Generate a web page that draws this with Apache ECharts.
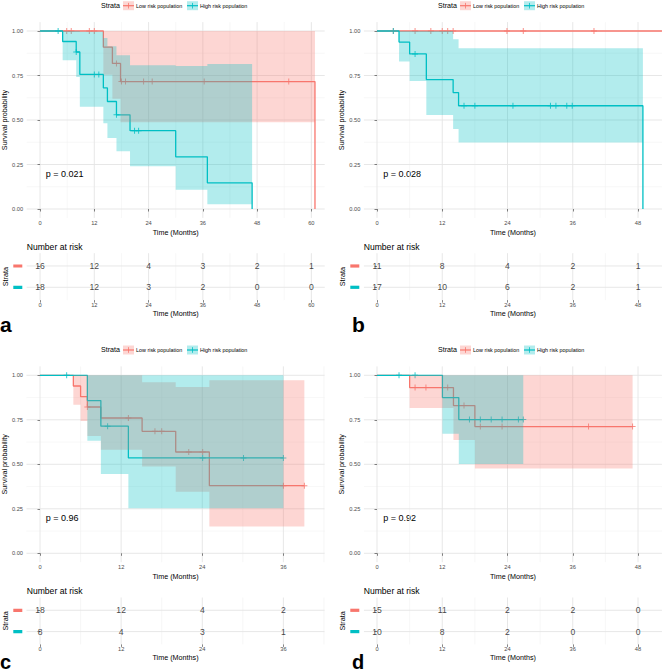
<!DOCTYPE html>
<html><head><meta charset="utf-8">
<script src="https://cdn.jsdelivr.net/npm/echarts@6/dist/echarts.min.js"></script>
<style>html,body{margin:0;padding:0;background:#fff}#c{width:662px;height:672px}</style>
</head><body><div id="c"></div>
<script>
// ---------------- DATA ----------------
const strataNames = ['Low risk population', 'High risk population'];
const yTicks = [0, 0.25, 0.5, 0.75, 1];
const yMinor = [0.125, 0.375, 0.625, 0.875];

// Panel a
const aLowTimes = [0, 14.0, 16.0, 17.8, 60.8];
const aLowSurv = [1, 0.909, 0.818, 0.716, 0];
const aLowLower = [1, 0.754, 0.619, 0.488, 0];
const aLowUpper = [1, 1, 1, 1, 0];
const aLowEnd = 60.8;
const aLowCensor = [5.9, 6.9, 10.9, 12.0, 16.9, 18.0, 18.9, 22.9, 24.8, 36.3, 55.0];
const aHighTimes = [0, 5.0, 8.0, 8.8, 14.0, 14.9, 16.9, 19.9, 30.0, 37.0, 46.9];
const aHighSurv = [1, 0.941, 0.882, 0.756, 0.680, 0.604, 0.529, 0.440, 0.293, 0.147, 0];
const aHighLower = [1, 0.836, 0.741, 0.574, 0.482, 0.399, 0.324, 0.240, 0.108, 0.027, 0];
const aHighUpper = [1, 1, 1, 0.996, 0.960, 0.914, 0.864, 0.807, 0.803, 0.815, 0];
const aHighEnd = 46.9;
const aHighCensor = [4.0, 8.0, 12.0, 13.0, 16.9, 20.9, 21.8];
const aTicks = [0, 12, 24, 36, 48, 60];
const aMinor = [6, 18, 30, 42, 54];
const aRiskLow = [16, 12, 4, 3, 2, 1];
const aRiskHigh = [18, 12, 3, 2, 0, 0];
const aPValue = 'p = 0.021';

// Panel b
const bLowTimes = [0];
const bLowSurv = [1];
const bLowLower = [1];
const bLowUpper = [1];
const bLowEnd = 52.4;
const bLowCensor = [3.0, 7.0, 9.9, 12.0, 13.0, 14.0, 23.9, 26.9, 39.9];
const bHighTimes = [0, 4.05, 6.0, 9.07, 14.0, 15.0, 48.9];
const bHighSurv = [1, 0.938, 0.871, 0.727, 0.654, 0.580, 0];
const bHighLower = [1, 0.828, 0.719, 0.528, 0.449, 0.373, 0];
const bHighUpper = [1, 1, 1, 1, 0.953, 0.903, 0];
const bHighEnd = 48.9;
const bHighCensor = [3.0, 7.0, 16.0, 18.0, 25.0, 31.9, 32.9, 34.9, 35.9];
const bTicks = [0, 12, 24, 36, 48];
const bMinor = [6, 18, 30, 42];
const bRiskLow = [11, 8, 4, 2, 1];
const bRiskHigh = [17, 10, 6, 2, 1];
const bPValue = 'p = 0.028';

// Panel c
const cLowTimes = [0, 4.93, 6.0, 7.0, 9.0, 15.1, 20.07, 25.05];
const cLowSurv = [1, 0.940, 0.880, 0.822, 0.760, 0.685, 0.569, 0.380];
const cLowLower = [1, 0.835, 0.743, 0.659, 0.582, 0.487, 0.346, 0.150];
const cLowUpper = [1, 1, 1, 1, 1, 0.961, 0.934, 0.972];
const cLowEnd = 39.1;
const cLowCensor = [7.0, 13.07, 17.0, 18.0, 22.0, 24.06, 36.0, 39.1];
const cHighTimes = [0, 7.0, 9.0, 13.07];
const cHighSurv = [1, 0.858, 0.714, 0.536];
const cHighLower = [1, 0.633, 0.446, 0.253];
const cHighUpper = [1, 1, 1, 1];
const cHighEnd = 36.0;
const cHighCensor = [3.94, 10.0, 24.06, 30.1, 36.0];
const cTicks = [0, 12, 24, 36];
const cMinor = [6, 18, 30, 42];
const cRiskLow = [18, 12, 4, 2];
const cRiskHigh = [8, 4, 3, 1];
const cPValue = 'p = 0.96';

// Panel d
const dLowTimes = [0, 6.0, 14.06, 18.0];
const dLowSurv = [1, 0.931, 0.830, 0.712];
const dLowLower = [1, 0.816, 0.637, 0.476];
const dLowUpper = [1, 1, 1, 1];
const dLowEnd = 47.0;
const dLowCensor = [7.0, 9.0, 13.0, 16.0, 19.0, 23.0, 38.9, 47.0];
const dHighTimes = [0, 12.03, 15.04];
const dHighSurv = [1, 0.875, 0.751];
const dHighLower = [1, 0.672, 0.502];
const dHighUpper = [1, 1, 1];
const dHighEnd = 26.9;
const dHighCensor = [4.05, 7.0, 17.0, 19.0, 21.0, 23.0, 26.0, 26.9];
const dTicks = [0, 12, 24, 36, 48];
const dMinor = [6, 18, 30, 42];
const dRiskLow = [15, 11, 2, 2, 0];
const dRiskHigh = [10, 8, 2, 0, 0];
const dPValue = 'p = 0.92';

// ---------------- STYLE / LAYOUT ----------------
const RED = '#F8766D', TEAL = '#00BFC4';
const RED_FILL = 'rgba(248,118,109,0.3)', TEAL_FILL = 'rgba(0,191,196,0.3)';
const FONT = '"Liberation Sans", Arial, Helvetica, sans-serif';
const MAJOR = '#E4E4E4', MINOR = '#F1F1F1';

function curve(times, surv, lower, upper, end, censor) {
  return {times, surv, lower, upper, end, censor};
}
const panels = [
  {letter: 'a', ox: 0, oy: 0, left: 26.7, xMin: -2.95, xMax: 62.95, ticks: aTicks, minor: aMinor,
   low: curve(aLowTimes, aLowSurv, aLowLower, aLowUpper, aLowEnd, aLowCensor),
   high: curve(aHighTimes, aHighSurv, aHighLower, aHighUpper, aHighEnd, aHighCensor),
   riskLow: aRiskLow, riskHigh: aRiskHigh, p: aPValue},
  {letter: 'b', ox: 337, oy: 0, left: 363.95, xMin: -2.4, xMax: 52.4, ticks: bTicks, minor: bMinor,
   low: curve(bLowTimes, bLowSurv, bLowLower, bLowUpper, bLowEnd, bLowCensor),
   high: curve(bHighTimes, bHighSurv, bHighLower, bHighUpper, bHighEnd, bHighCensor),
   riskLow: bRiskLow, riskHigh: bRiskHigh, p: bPValue},
  {letter: 'c', ox: 0, oy: 344.3, left: 26.5, xMin: -2.0, xMax: 42.08, ticks: cTicks, minor: cMinor,
   low: curve(cLowTimes, cLowSurv, cLowLower, cLowUpper, cLowEnd, cLowCensor),
   high: curve(cHighTimes, cHighSurv, cHighLower, cHighUpper, cHighEnd, cHighCensor),
   riskLow: cRiskLow, riskHigh: cRiskHigh, p: cPValue},
  {letter: 'd', ox: 337, oy: 344.3, left: 363.95, xMin: -2.4, xMax: 52.4, ticks: dTicks, minor: dMinor,
   low: curve(dLowTimes, dLowSurv, dLowLower, dLowUpper, dLowEnd, dLowCensor),
   high: curve(dHighTimes, dHighSurv, dHighLower, dHighUpper, dHighEnd, dHighCensor),
   riskLow: dRiskLow, riskHigh: dRiskHigh, p: dPValue}
];

const PLOT_W = 298, PLOT_TOP = 22.1, PLOT_H = 195.8, TABLE_TOP = 253.2, TABLE_H = 46.9;

function survAt(c, t) {
  let s = c.surv[0];
  for (let i = 0; i < c.times.length; i++) if (t >= c.times[i] - 1e-9) s = c.surv[i];
  return s;
}
function stepPoints(c) {
  const pts = c.times.map((t, i) => [t, c.surv[i]]);
  const last = c.times[c.times.length - 1];
  if (c.end > last) pts.push([c.end, c.surv[c.surv.length - 1]]);
  return pts;
}
function bandPolygon(c) {
  const segs = [];
  for (let i = 0; i < c.times.length; i++) {
    const t0 = c.times[i];
    const t1 = i < c.times.length - 1 ? c.times[i + 1] : c.end;
    if (t1 <= t0) continue;
    if (c.upper[i] - c.lower[i] < 1e-6) continue;
    segs.push({t0, t1, lo: c.lower[i], up: c.upper[i]});
  }
  if (!segs.length) return [];
  const pts = [];
  segs.forEach(s => { pts.push([s.t0, s.up]); pts.push([s.t1, s.up]); });
  for (let i = segs.length - 1; i >= 0; i--) { pts.push([segs[i].t1, segs[i].lo]); pts.push([segs[i].t0, segs[i].lo]); }
  return pts;
}
const PLUS = 'path://M-0.5,-3H0.5V-0.5H3V0.5H0.5V3H-0.5V0.5H-3V-0.5H-0.5Z';

const grids = [], xAxes = [], yAxes = [], series = [], graphics = [];

function gridSeries(gi, xVals, xMinorVals, yVals, yMinorVals, xr, yr) {
  return {
    type: 'custom', xAxisIndex: gi, yAxisIndex: gi, z: 0, silent: true,
    data: [[xr[0], yr[0]]],
    renderItem: function (params, api) {
      const ch = [];
      const add = (p1, p2, color, w) => ch.push({type: 'line', shape: {x1: p1[0], y1: p1[1], x2: p2[0], y2: p2[1]}, style: {stroke: color, lineWidth: w}});
      xMinorVals.forEach(v => add(api.coord([v, yr[0]]), api.coord([v, yr[1]]), MINOR, 0.6));
      yMinorVals.forEach(v => add(api.coord([xr[0], v]), api.coord([xr[1], v]), MINOR, 0.6));
      xVals.forEach(v => add(api.coord([v, yr[0]]), api.coord([v, yr[1]]), MAJOR, 0.9));
      yVals.forEach(v => add(api.coord([xr[0], v]), api.coord([xr[1], v]), MAJOR, 0.9));
      return {type: 'group', children: ch};
    }
  };
}

function axisX(gi, p, nameGap, labelMargin) {
  return {
    type: 'value', gridIndex: gi, min: p.xMin, max: p.xMax,
    axisLine: {show: false}, splitLine: {show: false},
    axisTick: {show: true, customValues: p.ticks, length: 2.5, lineStyle: {color: '#333', width: 0.6}},
    axisLabel: {customValues: p.ticks, fontSize: 5.7, color: '#4D4D4D', fontFamily: FONT, margin: labelMargin},
    name: 'Time (Months)', nameLocation: 'middle', nameGap: nameGap,
    nameTextStyle: {fontSize: 7.2, color: '#000', fontFamily: FONT}
  };
}

panels.forEach((p, k) => {
  const gPlot = k * 2, gTab = k * 2 + 1;
  const top = PLOT_TOP + p.oy, tTop = TABLE_TOP + p.oy;
  grids.push({left: p.left, top: top, width: PLOT_W, height: PLOT_H});
  grids.push({left: p.left, top: tTop, width: PLOT_W, height: TABLE_H});

  xAxes.push(axisX(gPlot, p, 10.8, 1.8));
  xAxes.push(axisX(gTab, p, 10.0, 1.8));
  yAxes.push({
    type: 'value', gridIndex: gPlot, min: -0.05, max: 1.05,
    axisLine: {show: false}, splitLine: {show: false},
    axisTick: {show: true, customValues: yTicks, length: 2.5, lineStyle: {color: '#333', width: 0.6}},
    axisLabel: {customValues: yTicks, formatter: v => v.toFixed(2), fontSize: 5.7, color: '#4D4D4D', fontFamily: FONT, margin: 3.5},
    name: 'Survival probability', nameLocation: 'middle', nameGap: 18,
    nameTextStyle: {fontSize: 7.2, color: '#000', fontFamily: FONT}
  });
  yAxes.push({
    type: 'value', gridIndex: gTab, min: 0.4, max: 2.6,
    axisLine: {show: false}, splitLine: {show: false},
    axisTick: {show: true, customValues: [1, 2], length: 2.5, lineStyle: {color: '#333', width: 0.6}},
    axisLabel: {show: false},
    name: 'Strata', nameLocation: 'middle', nameGap: 18,
    nameTextStyle: {fontSize: 7.2, color: '#000', fontFamily: FONT}
  });

  series.push(gridSeries(gPlot, p.ticks, p.minor, yTicks, yMinor, [p.xMin, p.xMax], [-0.05, 1.05]));
  series.push(gridSeries(gTab, p.ticks, p.minor, [1, 2], [], [p.xMin, p.xMax], [0.4, 2.6]));

  [[p.low, strataNames[0], RED, RED_FILL], [p.high, strataNames[1], TEAL, TEAL_FILL]].forEach(([c, name, col, fill]) => {
    series.push({
      type: 'line', name: name, xAxisIndex: gPlot, yAxisIndex: gPlot, step: 'end', z: 2,
      showSymbol: false, symbol: 'none', clip: true,
      lineStyle: {color: col, width: 1.3}, itemStyle: {color: col},
      data: stepPoints(c)
    });
    series.push({
      type: 'scatter', name: name, xAxisIndex: gPlot, yAxisIndex: gPlot, z: 2,
      symbol: PLUS, symbolSize: 6, itemStyle: {color: col},
      data: c.censor.map(t => [t, survAt(c, t)])
    });
    const poly = bandPolygon(c);
    if (poly.length) {
      series.push({
        type: 'custom', name: name, xAxisIndex: gPlot, yAxisIndex: gPlot, z: 3, silent: true,
        data: [[poly[0][0], poly[0][1]]],
        renderItem: function (params, api) {
          return {type: 'polygon', shape: {points: poly.map(q => api.coord(q))}, style: {fill: fill}};
        }
      });
    }
  });

  // risk table numbers
  [[p.riskLow, 2], [p.riskHigh, 1]].forEach(([vals, row]) => {
    series.push({
      type: 'scatter', xAxisIndex: gTab, yAxisIndex: gTab, z: 3, silent: true,
      symbol: 'circle', symbolSize: 1, itemStyle: {color: 'rgba(0,0,0,0)'},
      label: {show: true, position: 'inside', formatter: q => String(q.value[2]), fontSize: 8.6, color: '#111', fontFamily: FONT},
      data: p.ticks.map((t, i) => [t, row, vals[i]])
    });
  });

  // legend (top of panel)
  const LX = 101 + p.ox, LY = 5.7 + p.oy;
  graphics.push({type: 'text', x: LX, y: LY, style: {text: 'Strata', fontSize: 7.1, fill: '#000', fontFamily: FONT, verticalAlign: 'middle', align: 'left'}});
  [[LX + 22, RED, RED_FILL, strataNames[0], LX + 35], [LX + 86, TEAL, TEAL_FILL, strataNames[1], LX + 99]].forEach(([kx, col, fill, txt, tx]) => {
    graphics.push({type: 'rect', shape: {x: kx, y: LY - 4.5, width: 11, height: 9}, style: {fill: fill}});
    graphics.push({type: 'line', shape: {x1: kx, y1: LY, x2: kx + 11, y2: LY}, style: {stroke: col, lineWidth: 1.2}});
    graphics.push({type: 'line', shape: {x1: kx + 5.5, y1: LY - 2.8, x2: kx + 5.5, y2: LY + 2.8}, style: {stroke: col, lineWidth: 0.8}});
    graphics.push({type: 'text', x: tx, y: LY, style: {text: txt, fontSize: 5.4, fill: '#000', fontFamily: FONT, verticalAlign: 'middle', align: 'left'}});
  });
  // p-value
  graphics.push({type: 'text', x: 45.7 + p.ox + (p.ox ? 0.6 : 0), y: 173.7 + p.oy, style: {text: p.p, fontSize: 9, fill: '#000', fontFamily: FONT, verticalAlign: 'middle', align: 'left'}});
  // number at risk title
  graphics.push({type: 'text', x: 26.7 + p.ox, y: 246.7 + p.oy, style: {text: 'Number at risk', fontSize: 8.6, fill: '#000', fontFamily: FONT, verticalAlign: 'middle', align: 'left'}});
  // row keys
  graphics.push({type: 'rect', shape: {x: 13.3 + p.ox, y: 266 + p.oy - 1.6, width: 9, height: 3.2}, style: {fill: RED}});
  graphics.push({type: 'rect', shape: {x: 13.3 + p.ox, y: 287.3 + p.oy - 1.6, width: 9, height: 3.2}, style: {fill: TEAL}});
  // panel letter
  const ly = k >= 2 ? 661.5 : 324.4;
  graphics.push({type: 'text', x: (p.ox ? 352 : 0), y: ly, style: {text: p.letter, fontSize: k >= 2 ? 20 : 21, fontWeight: 'bold', fill: '#000', fontFamily: FONT, verticalAlign: 'middle', align: 'left'}});
});

const chart = echarts.init(document.getElementById('c'), null, {renderer: 'svg'});
chart.setOption({
  animation: false,
  backgroundColor: '#fff',
  textStyle: {fontFamily: FONT},
  grid: grids, xAxis: xAxes, yAxis: yAxes, series: series,
  graphic: {elements: graphics}
});
</script></body></html>
